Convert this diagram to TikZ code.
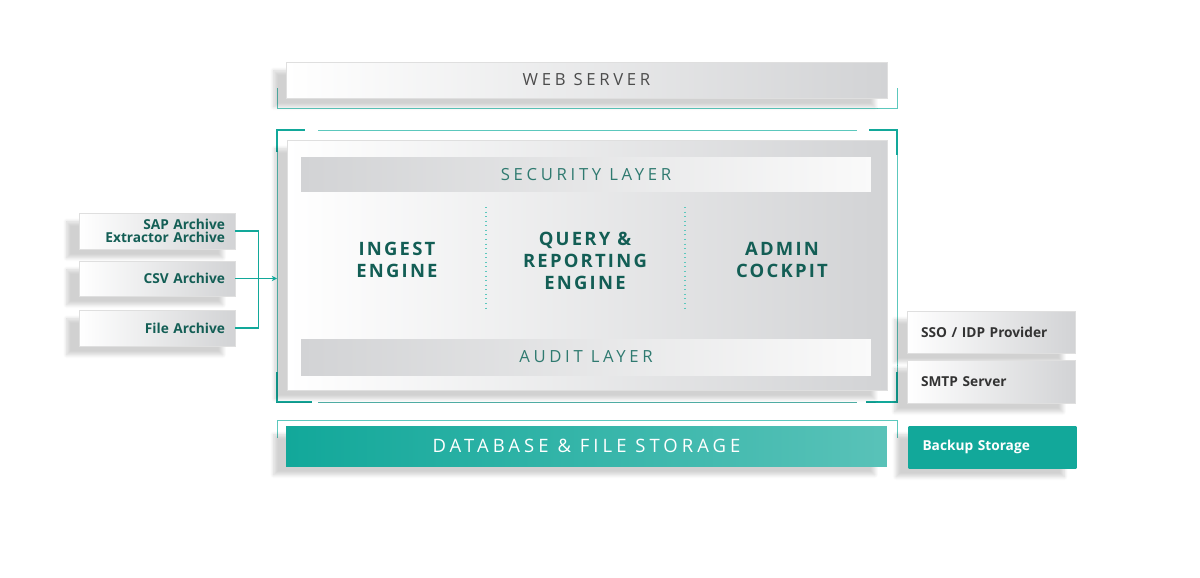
\documentclass[tikz,border=0pt]{standalone}
\usepackage{fontspec}
\setmainfont{Open Sans}
\newfontfamily\wide[LetterSpace=22]{Open Sans}
\newfontfamily\midwide[LetterSpace=12]{Open Sans}
\usetikzlibrary{arrows.meta,shadows.blur}
\definecolor{teal}{HTML}{12A89A}
\definecolor{tealdark}{HTML}{135E55}
\definecolor{tealline}{HTML}{5CC8BD}
\definecolor{tealtext}{HTML}{2F7A70}
\definecolor{boxgray}{HTML}{D2D3D5}

\begin{document}
\begin{tikzpicture}[x=0.02cm, y=-0.02cm,
  shade/.style={blur shadow={shadow xshift=-7pt, shadow yshift=-5pt, shadow opacity=18, shadow blur steps=8}},
  greybox/.style={shade, left color=white, right color=boxgray, draw=gray!25, line width=0.3pt, inner sep=0pt},
  layerbox/.style={left color=boxgray, right color=gray!4, inner sep=0pt, minimum width=11.4cm,
    font=\wide\fontsize{9.5}{11}\selectfont, text=tealtext},
  engine/.style={font=\midwide\bfseries\fontsize{10.5}{12.5}\selectfont, text=tealdark, align=center},
  sidebox/.style={greybox, minimum width=3.12cm, text width=2.72cm, inner xsep=0.2cm, align=right,
    font=\bfseries\fontsize{7.8}{7.6}\selectfont, text=tealdark},
  extbox/.style={greybox, minimum width=3.36cm, text width=2.8cm, inner xsep=0.28cm, align=left,
    font=\bfseries\fontsize{7.8}{9}\selectfont, text=black!80},
  frame/.style={draw=tealline, line width=0.5pt},
  corner/.style={draw=teal, line width=1.2pt}]

\useasboundingbox (0,0) rectangle (1200,578);

% Web server
\draw[frame] (277,88) -- (277,108) -- (897,108) -- (897,88);
\node[greybox, minimum width=12.02cm, minimum height=0.72cm, text=black!70,
  font=\wide\fontsize{9.5}{11}\selectfont] (web) at (586.5,80) {WEB SERVER};

% Rahmen
\draw[frame] (318,130) -- (857,130);
\draw[frame] (318,402) -- (857,402);
\draw[frame] (277,152) -- (277,372);
\draw[frame] (897,155) -- (897,372);
\draw[corner] (277,152) -- (277,130) -- (305,130);
\draw[corner] (869,130) -- (897,130) -- (897,155);
\draw[corner] (277,372) -- (277,402) -- (312,402);
\draw[corner] (866,402) -- (897,402) -- (897,372);

% Kern
\node[greybox, minimum width=12cm, minimum height=5cm] (core) at (587,265) {};
\node[layerbox, minimum height=0.7cm] (security) at (586,174.5) {SECURITY LAYER};
\node[layerbox, minimum height=0.72cm] (audit) at (586,357) {AUDIT LAYER};

\foreach \x in {486, 685}
  \draw[tealline, dotted, line width=0.6pt] (\x,207) -- (\x,311);

\node[engine] (ingest) at (397,260) {INGEST\\ENGINE};
\node[engine] (query) at (585,261) {QUERY \&\\REPORTING\\ENGINE};
\node[engine] (admin) at (782,260) {ADMIN\\COCKPIT};

% Speicher
\draw[frame] (277,438) -- (277,420) -- (897,420) -- (897,438);
\node[shade, left color=teal, right color=teal!70!white, minimum width=12.02cm, minimum height=0.8cm,
  inner sep=0pt, text=white, font=\wide\fontsize{10.5}{12}\selectfont] (storage) at (586.5,446)
  {DATABASE \& FILE STORAGE};

% Quellen links
\node[sidebox, minimum height=0.72cm] (sap) at (157,231) {SAP Archive\\Extractor Archive};
\node[sidebox, minimum height=0.7cm] (csv) at (157,278.5) {CSV Archive};
\node[sidebox, minimum height=0.72cm] (file) at (157,328) {File Archive};

\coordinate (inlet) at (277,278.5);
\draw[teal, line width=0.8pt] (sap.east) -- ++(23,0) |- (file.east);
\draw[teal, line width=0.8pt, -{Stealth[length=3pt, width=3pt]}] (csv.east) -- (inlet);

% Dienste rechts
\node[extbox, minimum height=0.84cm] (sso) at (991,332) {SSO / IDP Provider};
\node[extbox, minimum height=0.86cm] (smtp) at (991,381.5) {SMTP Server};
\node[extbox, fill=teal, draw=none, left color=teal, right color=teal, text=white,
  minimum height=0.84cm] (backup) at (992.5,447) {Backup Storage};

\end{tikzpicture}
\end{document}
